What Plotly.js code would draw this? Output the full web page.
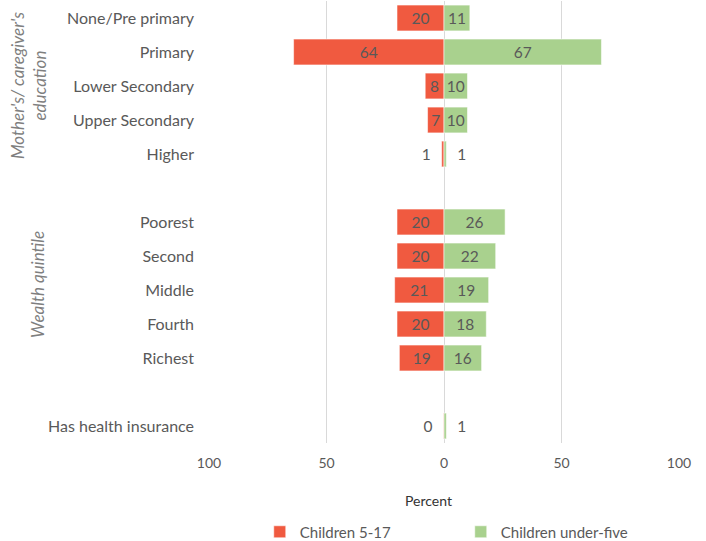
<!DOCTYPE html>
<html>
<head>
<meta charset="utf-8">
<script src="https://cdn.plot.ly/plotly-3.0.1.min.js"></script>
<style>html,body{margin:0;padding:0;background:#fff}#chart{width:706px;height:541px}</style>
</head>
<body>
<div id="chart"></div>
<script>
const categories = ["None/Pre primary", "Primary", "Lower Secondary", "Upper Secondary", "Higher", " ",
  "Poorest", "Second", "Middle", "Fourth", "Richest", "  ", "Has health insurance"];
const children517 = [20, 64, 8, 7, 1, null, 20, 20, 21, 20, 19, null, 0.2];
const childrenUnder5 = [11, 67, 10, 10, 1, null, 26, 22, 19, 18, 16, null, 1];
const tickVals = [-100, -50, 0, 50, 100];
const tickLabels = ["100", "50", "0", "50", "100"];
const groupLabels = ["Mother's/ caregiver's<br>education", "Wealth quintile"];

const FAM = "Lato, 'Open Sans', sans-serif";
const labelFont = {family: FAM, size: 15.5, color: "#595959"};
const NB = "\u00a0\u00a0";
const isInside = v => v !== null && v >= 5;
const posFor = v => (v === null ? "none" : (isInside(v) ? "inside" : "outside"));

const traces = [
  {
    type: "bar", orientation: "h", name: "Children 5-17",
    y: categories,
    x: children517.map(v => v === null ? null : -v),
    text: children517.map(v => v === null ? "" : (isInside(v) ? String(Math.round(v)) : String(Math.round(v)) + NB)),
    textposition: children517.map(posFor), insidetextanchor: "middle", cliponaxis: false,
    textfont: labelFont, insidetextfont: labelFont, outsidetextfont: labelFont,
    constraintext: "none",
    marker: {color: "#F05A40", line: {color: "rgba(255,255,255,0.55)", width: 1}},
    hoverinfo: "skip"
  },
  {
    type: "bar", orientation: "h", name: "Children under-five",
    y: categories,
    x: childrenUnder5,
    text: childrenUnder5.map(v => v === null ? "" : (isInside(v) ? String(Math.round(v)) : NB + String(Math.round(v)))),
    textposition: childrenUnder5.map(posFor), insidetextanchor: "middle", cliponaxis: false,
    textfont: labelFont, insidetextfont: labelFont, outsidetextfont: labelFont,
    constraintext: "none",
    marker: {color: "#A9D18E", line: {color: "rgba(255,255,255,0.55)", width: 1}},
    hoverinfo: "skip"
  }
];

const layout = {
  width: 706, height: 541,
  margin: {l: 209, r: 27, t: 1, b: 98, autoexpand: false},
  paper_bgcolor: "#fff", plot_bgcolor: "#fff",
  barmode: "relative", bargap: 0.24,
  font: {family: FAM, color: "#595959"},
  showlegend: true,
  legend: {
    orientation: "h", x: 0.108, xanchor: "left", y: -0.2014, yanchor: "middle",
    entrywidth: 156, entrywidthmode: "pixels",
    font: {family: FAM, size: 15, color: "#595959"},
    itemwidth: 30, traceorder: "normal"
  },
  xaxis: {
    range: [-100, 100], tickvals: tickVals, ticktext: tickLabels,
    showgrid: true, gridcolor: "#D9D9D9", gridwidth: 1,
    zeroline: true, zerolinecolor: "#D9D9D9", zerolinewidth: 1,
    showline: false, ticks: "", ticklabelstandoff: 10,
    tickfont: {family: FAM, size: 14, color: "#595959"},
    fixedrange: true
  },
  yaxis: {
    type: "category", autorange: "reversed",
    showgrid: false, zeroline: false, showline: false, ticks: "",
    ticklabelstandoff: 14,
    tickfont: {family: FAM, size: 16, color: "#595959"},
    fixedrange: true
  },
  annotations: [
    {xref: "paper", yref: "y", x: -0.385, y: "Lower Secondary", text: groupLabels[0],
     textangle: -90, showarrow: false, xanchor: "center", yanchor: "middle",
     font: {family: FAM, size: 17, color: "#7F7F7F", style: "italic"}},
    {xref: "paper", yref: "y", x: -0.366, y: "Middle", yshift: 6, text: groupLabels[1],
     textangle: -90, showarrow: false, xanchor: "center", yanchor: "middle",
     font: {family: FAM, size: 17, color: "#7F7F7F", style: "italic"}},
    {xref: "paper", yref: "paper", x: 0.466, y: -0.129, text: "Percent",
     showarrow: false, xanchor: "center", yanchor: "middle",
     font: {family: FAM, size: 14, color: "#333333"}}
  ]
};

Plotly.newPlot("chart", traces, layout, {displayModeBar: false, staticPlot: true});
</script>
</body>
</html>
